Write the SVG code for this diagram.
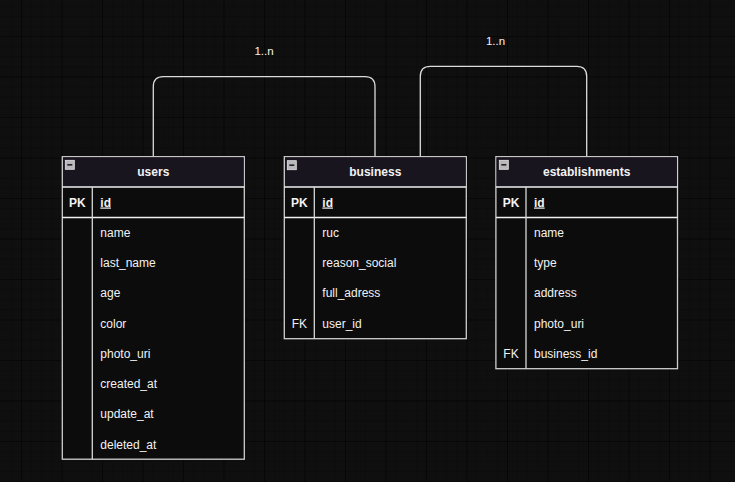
<svg xmlns="http://www.w3.org/2000/svg" width="735" height="482" viewBox="0 0 735 482">
<style>
.t{font-family:"Liberation Sans",Arial,sans-serif;font-size:12px;fill:#f2f2f2}
.b{font-weight:bold}
.c{text-anchor:middle}
.lbl{font-family:"Liberation Sans",Arial,sans-serif;font-size:11.5px;fill:#f2f2f2;text-anchor:middle}
.box{fill:#0c0c0c;stroke:#cfcfcf;stroke-width:1.3}
.hdr{fill:#19151f}
.sep{stroke:#f0f0f0;stroke-width:1.3}
.div{stroke:#d8d8d8;stroke-width:1.3}
.conn{fill:none;stroke:#dcdcdc;stroke-width:1.3}
.ico{fill:#b8b8bc;stroke:#e6e6e6;stroke-width:0.8}
.icl{stroke:#222;stroke-width:1.6}
</style>
<defs>
<pattern id="minor" x="21" y="36" width="10.125" height="10.125" patternUnits="userSpaceOnUse">
<path d="M0,0H10.125M0,0V10.125" fill="none" stroke="#0a0a0a" stroke-width="1"/>
</pattern>
<pattern id="major" x="21" y="36" width="40.5" height="40.5" patternUnits="userSpaceOnUse">
<path d="M0,0H40.5M0,0V40.5" fill="none" stroke="#020202" stroke-width="1.2"/>
</pattern>
</defs>
<rect width="735" height="482" fill="#0f0f0f"/>
<rect width="735" height="482" fill="url(#minor)"/>
<rect width="735" height="482" fill="url(#major)"/>

<g id="connectors">
<path class="conn" d="M153.3,157 V86.7 Q153.3,76.7 163.3,76.7 H365 Q375,76.7 375,86.7 V157"/>
<path class="conn" d="M420.3,157 V76.3 Q420.3,66.3 430.3,66.3 H576.7 Q586.7,66.3 586.7,76.3 V157"/>
<text class="lbl" x="264" y="54.5">1..n</text>
<text class="lbl" x="495.5" y="45">1..n</text>
</g>

<g id="users">
<rect class="box" x="62.3" y="156.7" width="182" height="302.5"/>
<rect class="hdr" x="63" y="157.4" width="180.6" height="29.6"/>
<line class="sep" x1="62.3" y1="187" x2="244.3" y2="187"/>
<line class="sep" x1="62.3" y1="217.5" x2="244.3" y2="217.5"/>
<line class="div" x1="92.3" y1="187" x2="92.3" y2="459.2"/>
<rect class="ico" x="65.3" y="160.3" width="9" height="9"/>
<line class="icl" x1="67.3" y1="164.8" x2="72.3" y2="164.8"/>
<text class="t b c" x="153.3" y="176.3">users</text>
<text class="t b c" x="77.3" y="206.5">PK</text>
<text class="t b" x="100.3" y="206.5" text-decoration="underline">id</text>
<text class="t" x="100.3" y="236.9">name</text>
<text class="t" x="100.3" y="267.2">last_name</text>
<text class="t" x="100.3" y="297.4">age</text>
<text class="t" x="100.3" y="327.7">color</text>
<text class="t" x="100.3" y="357.9">photo_uri</text>
<text class="t" x="100.3" y="388.2">created_at</text>
<text class="t" x="100.3" y="418.4">update_at</text>
<text class="t" x="100.3" y="448.7">deleted_at</text>
</g>

<g id="business">
<rect class="box" x="284.3" y="156.7" width="182" height="182"/>
<rect class="hdr" x="285" y="157.4" width="180.6" height="29.6"/>
<line class="sep" x1="284.3" y1="187" x2="466.3" y2="187"/>
<line class="sep" x1="284.3" y1="217.5" x2="466.3" y2="217.5"/>
<line class="div" x1="314.3" y1="187" x2="314.3" y2="338.7"/>
<rect class="ico" x="287.3" y="160.7" width="9" height="9"/>
<line class="icl" x1="289.3" y1="165.2" x2="294.3" y2="165.2"/>
<text class="t b c" x="375.3" y="176.3">business</text>
<text class="t b c" x="299.3" y="206.5">PK</text>
<text class="t b" x="322.3" y="206.5" text-decoration="underline">id</text>
<text class="t" x="322.3" y="236.9">ruc</text>
<text class="t" x="322.3" y="267.2">reason_social</text>
<text class="t" x="322.3" y="297.4">full_adress</text>
<text class="t c" x="299.3" y="327.7">FK</text>
<text class="t" x="322.3" y="327.7">user_id</text>
</g>

<g id="establishments">
<rect class="box" x="495.9" y="156.7" width="181.6" height="212"/>
<rect class="hdr" x="496.6" y="157.4" width="180.2" height="29.6"/>
<line class="sep" x1="495.9" y1="187" x2="677.5" y2="187"/>
<line class="sep" x1="495.9" y1="217.5" x2="677.5" y2="217.5"/>
<line class="div" x1="526" y1="187" x2="526" y2="368.7"/>
<rect class="ico" x="499.3" y="160.3" width="9" height="9"/>
<line class="icl" x1="501.3" y1="164.8" x2="506.3" y2="164.8"/>
<text class="t b c" x="586.7" y="176.3">establishments</text>
<text class="t b c" x="511" y="206.5">PK</text>
<text class="t b" x="534" y="206.5" text-decoration="underline">id</text>
<text class="t" x="534" y="236.9">name</text>
<text class="t" x="534" y="267.2">type</text>
<text class="t" x="534" y="297.4">address</text>
<text class="t" x="534" y="327.7">photo_uri</text>
<text class="t c" x="511" y="357.9">FK</text>
<text class="t" x="534" y="357.9">business_id</text>
</g>
</svg>
